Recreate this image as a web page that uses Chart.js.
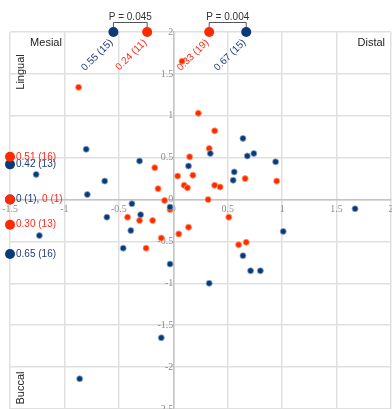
<!DOCTYPE html>
<html>
<head>
<meta charset="utf-8">
<script src="https://cdn.jsdelivr.net/npm/chart.js@4/dist/chart.umd.min.js"></script>
<style>
  html, body { margin: 0; padding: 0; background: #fff; }
  #c { display: block; }
</style>
</head>
<body>
<canvas id="c" width="392" height="409"></canvas>
<script>
// Axis ticks
const xTicks = [-1.5, -1, -0.5, 0, 0.5, 1, 1.5, 2];
const yTicks = [2, 1.5, 1, 0.5, 0, -0.5, -1, -1.5, -2, -2.5];

// Individual shifts, navy group
const navyX = [-0.80, -0.63, -0.79, -0.31, -0.38, -0.61, -0.30, -0.39, -0.46, -0.03,
               -0.03, 0.14, 0.34, 0.64, 0.68, 0.74, 0.94, 0.56, 0.55, 1.67,
               1.01, 0.64, 0.71, 0.80, 0.33, -0.11, -0.86, -1.26, -1.23];
const navyY = [0.60, 0.22, 0.06, 0.46, -0.05, -0.21, -0.18, -0.37, -0.58, -0.09,
               -0.77, 0.40, 0.55, 0.73, 0.52, 0.55, 0.45, 0.33, 0.23, -0.11,
               -0.38, -0.67, -0.85, -0.85, -1.00, -1.65, -2.14, 0.30, -0.43];

// Individual shifts, red group
const redX = [-0.87, 0.08, 0.23, 0.38, 0.33, 0.15, -0.17, 0.04, 0.18, -0.14,
              0.10, 0.13, 0.38, 0.43, 0.32, -0.08, -0.42, -0.31, -0.19, -0.03,
              0.14, 0.05, -0.11, -0.25, 0.51, 0.66, 0.95, 0.60, 0.67];
const redY = [1.34, 1.65, 1.03, 0.82, 0.61, 0.51, 0.38, 0.28, 0.29, 0.13,
              0.17, 0.14, 0.17, 0.15, 0.00, -0.01, -0.21, -0.25, -0.25, -0.12,
              -0.33, -0.41, -0.46, -0.58, -0.21, 0.25, 0.22, -0.54, -0.51];

// Mean mesial/distal shifts (top edge) with counts
const topNavyX = [-0.55, 0.67];
const topNavyN = [15, 15];
const topRedX = [-0.24, 0.33];
const topRedN = [11, 19];

// Mean lingual/buccal shifts (left edge) with counts
const sideNavyY = [0.42, 0, -0.65];
const sideNavyN = [13, 1, 16];
const sideRedY = [0.51, 0, -0.30];
const sideRedN = [16, 1, 13];

// Significance between the navy and red means on each side
const pTexts = ['P = 0.045', 'P = 0.004'];

const NAVY = '#0b3a78';
const RED = '#ff2a00';
const X_EDGE = -1.5;
const Y_EDGE = 2;

const fmt = v => (Math.abs(v) < 1e-9 ? '0' : Math.abs(v).toFixed(2));

const annotate = {
  id: 'annotate',
  afterDatasetsDraw(chart) {
    const { ctx, scales: { x, y } } = chart;
    const sans = '"Liberation Sans", Arial, sans-serif';
    ctx.save();

    // Direction titles
    ctx.fillStyle = '#222';
    ctx.font = '11px ' + sans;
    ctx.textBaseline = 'middle';
    ctx.textAlign = 'center';
    ctx.fillText('Mesial', 46, 43);
    ctx.textAlign = 'right';
    ctx.fillText('Distal', 385, 43);
    ctx.save();
    ctx.translate(21, 72);
    ctx.rotate(-Math.PI / 2);
    ctx.textAlign = 'center';
    ctx.fillText('Lingual', 0, 0);
    ctx.restore();
    ctx.save();
    ctx.translate(21, 388);
    ctx.rotate(-Math.PI / 2);
    ctx.textAlign = 'center';
    ctx.fillText('Buccal', 0, 0);
    ctx.restore();

    // Rotated labels below the top-edge means
    ctx.font = '10px ' + sans;
    const topLabel = (v, n, color) => {
      const px = x.getPixelForValue(v);
      const py = y.getPixelForValue(Y_EDGE);
      ctx.save();
      ctx.translate(px - 2, py + 9);
      ctx.rotate(-Math.PI / 4);
      ctx.fillStyle = color;
      ctx.textAlign = 'right';
      ctx.textBaseline = 'middle';
      ctx.fillText(fmt(v) + ' (' + n + ')', 0, 0);
      ctx.restore();
    };
    topNavyX.forEach((v, i) => topLabel(v, topNavyN[i], '#1f3c78'));
    topRedX.forEach((v, i) => topLabel(v, topRedN[i], '#ff2a1a'));

    // Labels beside the left-edge means
    ctx.textAlign = 'left';
    ctx.textBaseline = 'middle';
    const lx = x.getPixelForValue(X_EDGE) + 6;
    const used = new Set();
    sideNavyY.forEach((v, i) => {
      const py = y.getPixelForValue(v);
      const t = fmt(v) + ' (' + sideNavyN[i] + ')';
      const j = sideRedY.indexOf(v);
      ctx.fillStyle = '#1f3c78';
      if (j >= 0) {
        used.add(j);
        const first = t + ', ';
        ctx.fillText(first, lx, py);
        ctx.fillStyle = '#ff2a1a';
        ctx.fillText(fmt(sideRedY[j]) + ' (' + sideRedN[j] + ')', lx + ctx.measureText(first).width, py);
      } else {
        ctx.fillText(t, lx, py);
      }
    });
    sideRedY.forEach((v, i) => {
      if (used.has(i)) return;
      ctx.fillStyle = '#ff2a1a';
      ctx.fillText(fmt(v) + ' (' + sideRedN[i] + ')', lx, y.getPixelForValue(v));
    });

    // P-value brackets between paired means on the top edge
    ctx.strokeStyle = '#555';
    ctx.lineWidth = 1;
    ctx.fillStyle = '#333';
    ctx.textAlign = 'center';
    ctx.textBaseline = 'alphabetic';
    pTexts.forEach((t, i) => {
      const a = x.getPixelForValue(Math.min(topNavyX[i], topRedX[i]));
      const b = x.getPixelForValue(Math.max(topNavyX[i], topRedX[i]));
      const top = 22.5, low = 27.5;
      ctx.beginPath();
      ctx.moveTo(a, low);
      ctx.lineTo(a, top);
      ctx.lineTo(b, top);
      ctx.lineTo(b, low);
      ctx.stroke();
      ctx.fillText(t, (a + b) / 2, 20);
    });

    // Edge means drawn over their labels
    const dot = (px, py, color) => {
      ctx.beginPath();
      ctx.arc(px, py, 5, 0, Math.PI * 2);
      ctx.fillStyle = color;
      ctx.fill();
    };
    const ty = y.getPixelForValue(Y_EDGE);
    topNavyX.forEach(v => dot(x.getPixelForValue(v), ty, NAVY));
    topRedX.forEach(v => dot(x.getPixelForValue(v), ty, RED));
    const ex = x.getPixelForValue(X_EDGE);
    sideNavyY.forEach(v => dot(ex, y.getPixelForValue(v), NAVY));
    sideRedY.forEach(v => dot(ex, y.getPixelForValue(v), RED));

    ctx.restore();
  }
};

const toPts = (xs, ys) => xs.map((v, i) => ({ x: v, y: ys[i] }));

const tickFont = { family: '"Liberation Serif", "DejaVu Serif", serif', size: 10 };

// Centered axes: keep them from claiming any layout room
const flatX = s => { s.height = 0; s.paddingLeft = 0; s.paddingRight = 0; s.paddingTop = 0; s.paddingBottom = 0; };
const flatY = s => { s.width = 0; s.paddingLeft = 0; s.paddingRight = 0; s.paddingTop = 0; s.paddingBottom = 0; };

new Chart(document.getElementById('c'), {
  type: 'scatter',
  data: {
    datasets: [
      {
        data: toPts(navyX, navyY),
        backgroundColor: NAVY,
        borderColor: 'rgba(140,165,205,0.8)',
        borderWidth: 1,
        pointRadius: 3,
        clip: false
      },
      {
        data: toPts(redX, redY),
        backgroundColor: RED,
        borderColor: 'rgba(255,150,100,0.85)',
        borderWidth: 1,
        pointRadius: 3,
        clip: false
      }
    ]
  },
  options: {
    responsive: false,
    devicePixelRatio: 1,
    animation: false,
    events: [],
    layout: { autoPadding: false, padding: { top: 32, left: 10, right: 1, bottom: -1 } },
    plugins: { legend: { display: false }, tooltip: { enabled: false } },
    scales: {
      x: {
        type: 'linear',
        min: -1.5,
        max: 2,
        position: { y: 0 },
        afterBuildTicks: s => { s.ticks = xTicks.map(v => ({ value: v })); },
        afterFit: flatX,
        grid: { color: '#e0e0e0', lineWidth: 1.5, drawTicks: false },
        border: { color: '#c4c4c4', width: 1.5 },
        ticks: { font: tickFont, color: '#8c8c8c', padding: 4, maxRotation: 0, autoSkip: false,
                 callback: v => String(v) }
      },
      y: {
        type: 'linear',
        min: -2.5,
        max: 2,
        position: { x: 0 },
        afterBuildTicks: s => { s.ticks = yTicks.map(v => ({ value: v })); },
        afterFit: flatY,
        grid: { color: '#e0e0e0', lineWidth: 1.5, drawTicks: true, tickLength: 5, tickColor: 'rgba(0,0,0,0)' },
        border: { color: '#c4c4c4', width: 1.5 },
        ticks: { font: tickFont, color: '#8c8c8c', padding: 4, autoSkip: false,
                 callback: v => String(v) }
      }
    }
  },
  plugins: [annotate]
});
</script>
</body>
</html>
